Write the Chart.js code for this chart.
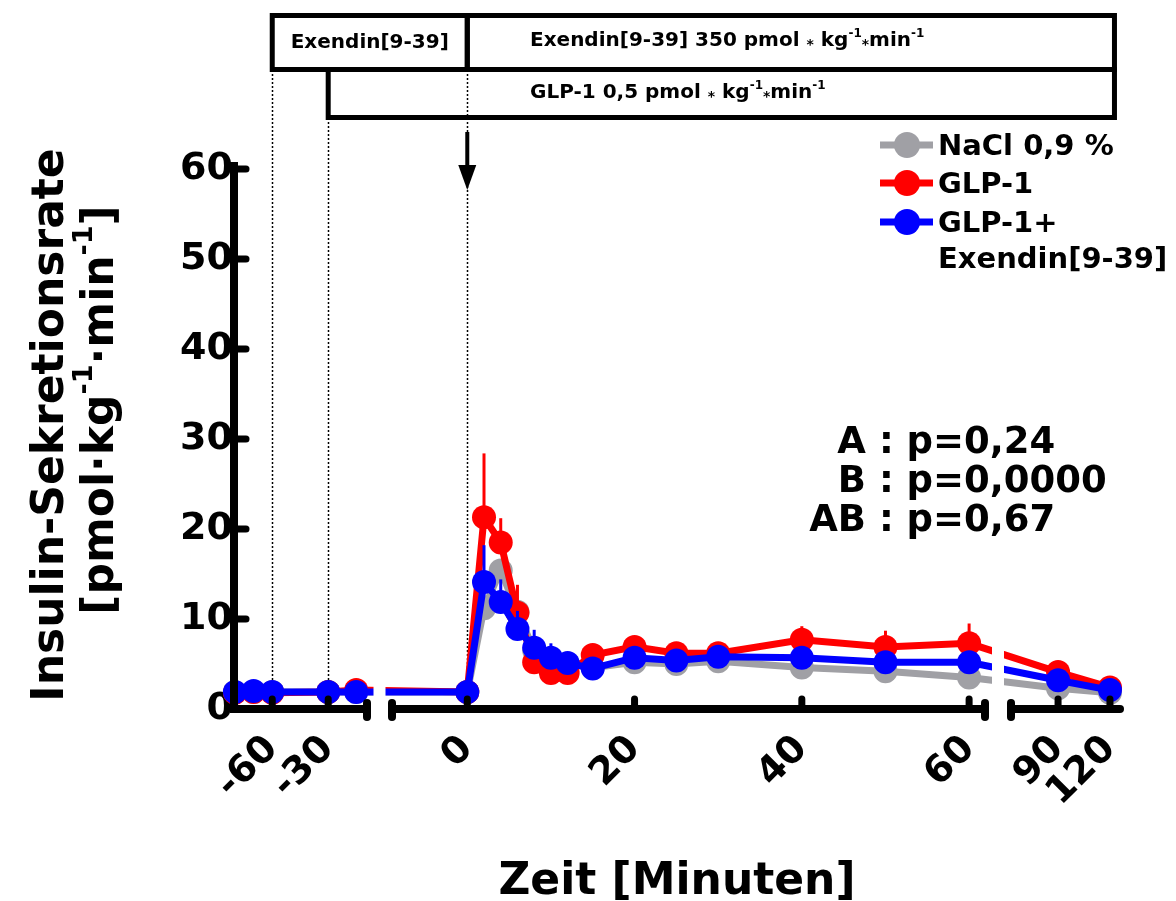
<!DOCTYPE html>
<html>
<head>
<meta charset="utf-8">
<script src="https://cdn.jsdelivr.net/npm/chart.js@4.4.1/dist/chart.umd.min.js"></script>
<style>
  body { margin: 0; background: #fff; }
  canvas { display: block; }
</style>
</head>
<body>
<canvas id="insulin" width="1176" height="901"></canvas>
<script>
// Zeitpunkte in Minuten
const zeit = [-80, -70, -60, -30, -15, 0, 2, 4, 6, 8, 10, 12, 15, 20, 25, 30, 40, 50, 60, 90, 120];

// Insulin-Sekretionsrate, Mittelwerte
const nacl   = [1.9, 1.9, 1.9, 1.9, 1.9, 1.9, 11.2, 15.4, 10.8, 6.5, 5.5, 5.0, 4.6, 5.2, 5.0, 5.3, 4.6, 4.2, 3.5, 2.3, 1.8];
const glp1   = [1.8, 1.9, 1.8, 1.9, 2.1, 1.9, 21.3, 18.5, 10.7, 5.2, 4.0, 4.0, 6.0, 6.9, 6.2, 6.2, 7.7, 6.9, 7.3, 4.1, 2.4];
const glp1Ex = [1.9, 2.0, 1.9, 1.9, 1.9, 1.9, 14.1, 11.9, 8.9, 6.8, 5.7, 5.1, 4.5, 5.7, 5.4, 5.8, 5.7, 5.2, 5.2, 3.2, 2.1];

// SEM (nur nach oben gezeichnet)
const naclSem   = [0.3, 0.3, 0.3, 0.3, 0.3, 0.3, 1.5, 1.2, 1.0, 0.6, 0.5, 0.5, 0.5, 0.5, 0.5, 0.5, 0.5, 0.5, 0.5, 0.4, 0.3];
const glp1Sem   = [0.3, 0.3, 0.3, 0.3, 0.3, 0.3, 7.1, 2.7, 3.1, 0.8, 0.6, 0.6, 0.7, 0.8, 0.7, 0.7, 1.5, 1.8, 2.2, 0.6, 0.4];
const glp1ExSem = [0.3, 0.3, 0.3, 0.3, 0.3, 0.3, 4.1, 2.5, 2.0, 2.0, 1.6, 0.6, 0.5, 0.6, 0.5, 0.5, 0.6, 0.5, 0.6, 0.5, 0.4];

const tickZeit = [-60, -30, 0, 20, 40, 60, 90, 120];
const tickText = ['-60', '-30', '0', '20', '40', '60', '90', '120'];

const legendText = [['NaCl 0,9 %'], ['GLP-1'], ['GLP-1+', 'Exendin[9-39]']];
const statText = [['A', ' : p=0,24'], ['B', ' : p=0,0000'], ['AB', ' : p=0,67']];

// Infusionsphasen [min]
const exendinBolus = [-60, 0];
const exendinInf = [0, 122.6];
const glpInf = [-30, 122.6];

// gebrochene Zeitachse: drei Abschnitte
const parts = [
  {t0: -80.5, t1: -9.2, u0: 0, u1: 133},
  {t0: -9, t1: 61.9, u0: 158, u1: 751},
  {t0: 62.8, t1: 125.8, u0: 777, u1: 886}
];
function warp(t) {
  let p = parts[parts.length - 1];
  for (const q of parts) { if (t <= q.t1) { p = q; break; } }
  return p.u0 + (t - p.t0) * (p.u1 - p.u0) / (p.t1 - p.t0);
}
function pts(vals) { return zeit.map((t, i) => ({x: warp(t), y: vals[i]})); }

const FONT = 'DejaVu Sans';
Chart.defaults.font.family = FONT;
Chart.defaults.font.weight = 'bold';
Chart.defaults.color = '#000';

// Text mit Hochzahlen, links ausgerichtet
function richText(ctx, pieces, x, y, size) {
  ctx.textBaseline = 'middle';
  ctx.textAlign = 'left';
  pieces.forEach(([s, kind]) => {
    let dy = 0;
    if (kind === 'sup') { ctx.font = 'bold ' + Math.round(size * 0.62) + 'px ' + FONT; dy = -size * 0.38; }
    else if (kind === 'star') { ctx.font = 'bold ' + Math.round(size * 0.68) + 'px ' + FONT; dy = size * 0.2; }
    else ctx.font = 'bold ' + size + 'px ' + FONT;
    ctx.fillText(s, x, y + dy);
    x += ctx.measureText(s).width;
  });
  return x;
}
function richWidth(ctx, pieces, size) {
  ctx.save();
  ctx.globalAlpha = 0;
  const w = richText(ctx, pieces, 0, 0, size);
  ctx.restore();
  return w;
}

const einheit = [['[pmol·kg'], ['-1', 'sup'], ['·min'], ['-1', 'sup'], [']']];

const deko = {
  id: 'deko',
  beforeDatasetsDraw(chart) {
    const {ctx, chartArea: a, scales: {x}} = chart;
    const X = t => x.getPixelForValue(warp(t));
    ctx.save();
    // Kästen oben
    ctx.strokeStyle = '#000';
    ctx.lineWidth = 5;
    ctx.strokeRect(X(exendinBolus[0]), 15.5, X(exendinBolus[1]) - X(exendinBolus[0]), 54);
    ctx.strokeRect(X(exendinInf[0]), 15.5, X(exendinInf[1]) - X(exendinInf[0]), 54);
    ctx.strokeRect(X(glpInf[0]), 69.5, X(glpInf[1]) - X(glpInf[0]), 48);
    ctx.fillStyle = '#000';
    ctx.font = 'bold 20px ' + FONT;
    ctx.textAlign = 'center';
    ctx.textBaseline = 'middle';
    ctx.fillText('Exendin[9-39]', (X(exendinBolus[0]) + X(exendinBolus[1])) / 2, 43);
    richText(ctx, [['Exendin[9-39] 350 pmol '], ['*', 'star'], [' kg'], ['-1', 'sup'], ['*', 'star'], ['min'], ['-1', 'sup']], 530, 41, 20);
    richText(ctx, [['GLP-1 0,5 pmol '], ['*', 'star'], [' kg'], ['-1', 'sup'], ['*', 'star'], ['min'], ['-1', 'sup']], 530, 93, 20);
    // gepunktete Hilfslinien
    ctx.setLineDash([2, 2]);
    ctx.lineWidth = 1.5;
    [[exendinBolus[0], 70], [glpInf[0], 118], [0, 70]].forEach(([t, top]) => {
      ctx.beginPath();
      ctx.moveTo(Math.round(X(t)) + 0.5, top);
      ctx.lineTo(Math.round(X(t)) + 0.5, a.bottom);
      ctx.stroke();
    });
    ctx.setLineDash([]);
    // Pfeil bei 0
    const x0 = X(0);
    ctx.lineWidth = 4;
    ctx.beginPath(); ctx.moveTo(x0, 132); ctx.lineTo(x0, 170); ctx.stroke();
    ctx.beginPath(); ctx.moveTo(x0 - 9, 165); ctx.lineTo(x0 + 9, 165); ctx.lineTo(x0, 190); ctx.closePath(); ctx.fill();
    // y-Achsentitel
    ctx.translate(0, 0);
    ctx.save();
    ctx.translate(52, 425);
    ctx.rotate(-Math.PI / 2);
    ctx.font = 'bold 44px ' + FONT;
    ctx.textAlign = 'center';
    ctx.textBaseline = 'middle';
    ctx.fillText('Insulin-Sekretionsrate', 0, 0);
    ctx.restore();
    ctx.save();
    ctx.translate(102, 410);
    ctx.rotate(-Math.PI / 2);
    const w = richWidth(ctx, einheit, 44);
    richText(ctx, einheit, -w / 2, 0, 44);
    ctx.restore();
    ctx.restore();
  },
  beforeDatasetDraw(chart, args) {
    const ds = chart.data.datasets[args.index];
    const {ctx, scales: {y}} = chart;
    ctx.save();
    ctx.strokeStyle = ds.borderColor;
    ctx.lineWidth = 3;
    args.meta.data.forEach((p, i) => {
      ctx.beginPath();
      ctx.moveTo(p.x, p.y);
      ctx.lineTo(p.x, y.getPixelForValue(ds.data[i].y + ds.sem[i]));
      ctx.stroke();
    });
    ctx.restore();
  },
  afterDatasetsDraw(chart) {
    const {ctx, chartArea: a, scales: {x, y}} = chart;
    ctx.save();
    // Lücken in den Kurven an den Achsenbrüchen
    ctx.fillStyle = '#fff';
    for (let k = 0; k < parts.length - 1; k++) {
      const mid = x.getPixelForValue((parts[k].u1 + parts[k + 1].u0) / 2);
      ctx.fillRect(mid - 6, a.top, 12, a.bottom - a.top - 6);
    }
    // Achsen
    ctx.strokeStyle = '#000';
    ctx.fillStyle = '#000';
    ctx.lineWidth = 8;
    ctx.lineCap = 'butt';
    ctx.beginPath(); ctx.moveTo(a.left, a.bottom + 4); ctx.lineTo(a.left, a.top - 7); ctx.stroke();
    parts.forEach((p, k) => {
      const l = k === 0 ? a.left : x.getPixelForValue(p.u0);
      const r = x.getPixelForValue(p.u1);
      ctx.lineCap = 'round';
      ctx.beginPath(); ctx.moveTo(l, a.bottom); ctx.lineTo(r, a.bottom); ctx.stroke();
      if (k > 0) { ctx.beginPath(); ctx.moveTo(l, a.bottom - 6); ctx.lineTo(l, a.bottom + 8); ctx.stroke(); }
      if (k < parts.length - 1) { ctx.beginPath(); ctx.moveTo(r, a.bottom - 6); ctx.lineTo(r, a.bottom + 8); ctx.stroke(); }
    });
    ctx.lineWidth = 7;
    ctx.lineCap = 'round';
    tickZeit.forEach(t => {
      const px = x.getPixelForValue(warp(t));
      ctx.beginPath(); ctx.moveTo(px, a.bottom); ctx.lineTo(px, a.bottom - 10); ctx.stroke();
    });
    y.ticks.forEach(tk => {
      const py = y.getPixelForValue(tk.value);
      ctx.beginPath(); ctx.moveTo(a.left, py); ctx.lineTo(a.left + 12, py); ctx.stroke();
    });
    // Legende
    const rows = [145, 183, 222];
    chart.data.datasets.forEach((ds, i) => {
      ctx.strokeStyle = ds.borderColor;
      ctx.fillStyle = ds.borderColor;
      ctx.lineWidth = 7;
      ctx.lineCap = 'butt';
      ctx.beginPath(); ctx.moveTo(880, rows[i]); ctx.lineTo(933, rows[i]); ctx.stroke();
      ctx.beginPath(); ctx.arc(907, rows[i], 13, 0, Math.PI * 2); ctx.fill();
      ctx.fillStyle = '#000';
      ctx.font = 'bold 29px ' + FONT;
      ctx.textAlign = 'left';
      ctx.textBaseline = 'middle';
      legendText[i].forEach((s, j) => ctx.fillText(s, 938, rows[i] + 2 + j * 36));
    });
    // Statistik
    ctx.fillStyle = '#000';
    ctx.font = 'bold 37px ' + FONT;
    ctx.textBaseline = 'middle';
    statText.forEach(([l, r], i) => {
      ctx.textAlign = 'right'; ctx.fillText(l, 866, 443 + i * 39);
      ctx.textAlign = 'left'; ctx.fillText(r, 866, 443 + i * 39);
    });
    ctx.restore();
  }
};

const line = (label, vals, sem, color, order) => ({
  label: label,
  data: pts(vals),
  sem: sem,
  borderColor: color,
  backgroundColor: color,
  borderWidth: 7,
  pointRadius: 12,
  pointBorderWidth: 0,
  pointBackgroundColor: color,
  tension: 0,
  clip: false,
  order: order
});

new Chart(document.getElementById('insulin'), {
  type: 'line',
  data: {
    datasets: [
      line('NaCl 0,9 %', nacl, naclSem, '#a0a0a5', 3),
      line('GLP-1', glp1, glp1Sem, '#ff0000', 2),
      line('GLP-1+Exendin[9-39]', glp1Ex, glp1ExSem, '#0000ff', 1)
    ]
  },
  options: {
    responsive: false,
    animation: false,
    devicePixelRatio: 1,
    layout: { padding: { left: 0, top: 169, right: 56, bottom: 0 } },
    plugins: { legend: { display: false }, tooltip: { enabled: false } },
    scales: {
      x: {
        type: 'linear',
        min: 0,
        max: 886,
        grid: { display: false, drawTicks: false },
        border: { display: false },
        afterBuildTicks: s => { s.ticks = tickZeit.map(t => ({ value: warp(t) })); },
        afterFit: s => { s.height = 192; },
        ticks: {
          autoSkip: false,
          minRotation: 45,
          maxRotation: 45,
          padding: 18,
          font: { size: 38, weight: 'bold' },
          callback: (v, i) => tickText[i]
        },
        title: { display: true, text: 'Zeit [Minuten]', font: { size: 44, weight: 'bold', lineHeight: 0.85 }, padding: 0 }
      },
      y: {
        min: 0,
        max: 60,
        grid: { display: false, drawTicks: false },
        border: { display: false },
        afterFit: s => { s.width = 234; },
        ticks: { stepSize: 10, padding: 1, font: { size: 38, weight: 'bold' } },
        title: { display: false }
      }
    }
  },
  plugins: [deko]
});
</script>
</body>
</html>
